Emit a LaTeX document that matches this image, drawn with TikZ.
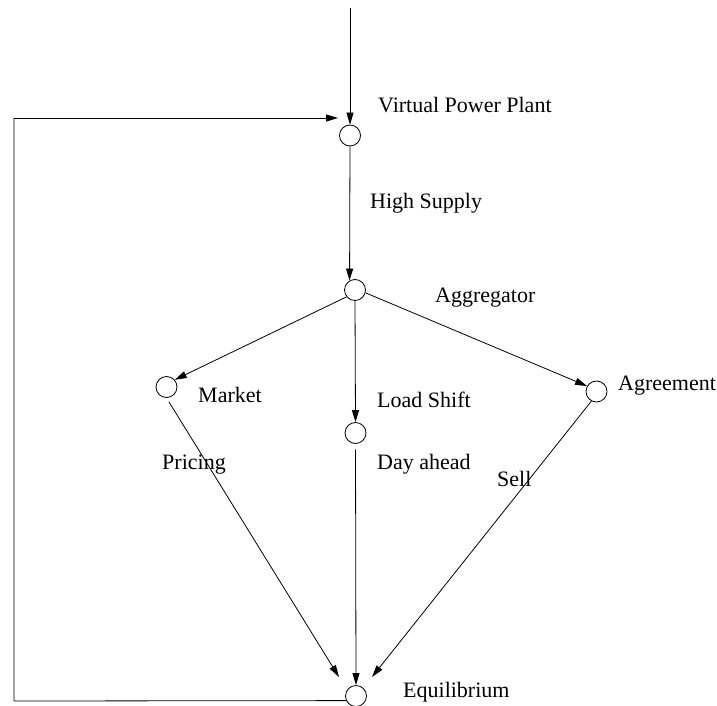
\documentclass[tikz,border=0pt]{standalone}
\usepackage{fontspec}
\setmainfont{Liberation Serif}
\usetikzlibrary{arrows.meta}

\tikzset{
  ring/.style={draw, circle, minimum size=21pt, inner sep=0pt, line width=0.8pt},
  flow/.style={line width=0.8pt, -{Triangle[length=12pt,width=7pt]}},
  plain/.style={line width=0.8pt},
  lbl/.style={anchor=base west, inner sep=0pt, font=\fontsize{22}{26}\selectfont}
}

\begin{document}
\begin{tikzpicture}[x=1pt,y=1pt,yscale=-1]
\useasboundingbox (0,0) rectangle (717,706);

%Shape: Circles
\node[ring] (vpp) at (350,135.5) {};
\node[ring] (agg) at (355,290) {};
\node[ring] (mkt) at (166.5,387) {};
\node[ring] (lds) at (355.5,433) {};
\node[ring] (agr) at (596.5,391.5) {};
\node[ring] (equ) at (356,696) {};

%Coordinates
\coordinate (top) at (350,8);
\coordinate (fbB) at (14,701);
\coordinate (fbT) at (14,118);
\coordinate (fbIn) at (338,118);
\coordinate (eqL) at (339,677);
\coordinate (eqR) at (372,677);

%Straight Lines
\draw[flow] (top) -- (vpp.north);
\draw[flow] (vpp.south) -- (agg.120);
\draw[flow] (agg.219) -- (mkt.41);
\draw[flow] (agg.south) -- (lds.north);
\draw[flow] (agg.-15) -- (agr.150);
\draw[flow, shorten <=4.5pt] (mkt.south) -- (eqL);
\draw[flow, shorten <=5.5pt] (lds.south) -- (equ.north);
\draw[flow] (agr.-118) -- (eqR);
%Feedback line
\draw[plain] (equ.205) -- (fbB) -- (fbT);
\draw[flow] (fbT) -- (fbIn);

% Text Node
\node[lbl] (tVpp) at (378,113) {Virtual Power Plant};
% Text Node
\node[lbl] (tHigh) at (370,208) {High Supply};
% Text Node
\node[lbl] (tAgg) at (435,302) {Aggregator};
% Text Node
\node[lbl] (tMkt) at (198,402) {Market};
% Text Node
\node[lbl] (tLds) at (377,407) {Load Shift};
% Text Node
\node[lbl] (tAgr) at (618,390) {Agreement};
% Text Node
\node[lbl] (tPrc) at (162,469) {Pricing};
% Text Node
\node[lbl] (tDay) at (377,469) {Day ahead};
% Text Node
\node[lbl] (tSell) at (497,486) {Sell};
% Text Node
\node[lbl] (tEqu) at (403,697) {Equilibrium};

\end{tikzpicture}
\end{document}
